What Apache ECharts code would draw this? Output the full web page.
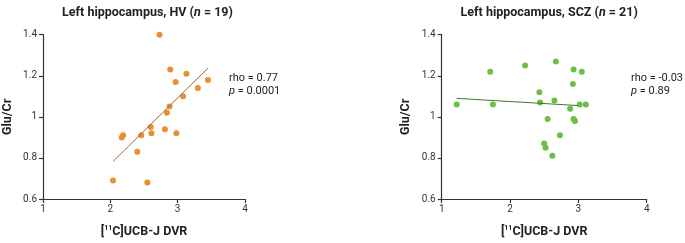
<!DOCTYPE html>
<html><head><meta charset="utf-8">
<script src="https://cdn.jsdelivr.net/npm/echarts@6/dist/echarts.min.js"></script>
<style>html,body{margin:0;padding:0;background:#fff}#c{width:685px;height:243px}</style>
</head><body><div id="c"></div>
<script>
// Data
const hvDVR  = [2.73,2.89,3.13,2.97,3.45,3.30,3.08,2.88,2.84,2.60,2.61,2.81,2.98,2.46,2.19,2.17,2.40,2.04,2.55];
const hvGlu  = [1.40,1.23,1.21,1.17,1.18,1.14,1.10,1.05,1.02,0.95,0.92,0.94,0.92,0.91,0.91,0.90,0.83,0.69,0.68];
const sczDVR = [1.22,1.71,1.75,2.22,2.67,2.93,3.05,2.92,2.43,2.44,2.65,2.88,3.02,3.11,2.55,2.93,2.95,2.73,2.50,2.52,2.62];
const sczGlu = [1.06,1.22,1.06,1.25,1.27,1.23,1.22,1.16,1.12,1.07,1.08,1.04,1.06,1.06,0.99,0.99,0.98,0.91,0.87,0.85,0.81];
const hvFitX = [2.04,3.45];
const hvFitY = [0.783,1.237];
const sczFitX = [1.22,3.00];
const sczFitY = [1.090,1.055];
const xTicks = [1,2,3,4];
const yTicks = [0.6,0.8,1.0,1.2,1.4];
const titles = ['Left hippocampus, HV (', 'Left hippocampus, SCZ ('];
const nValues = [19,21];
const rhoText = ['rho = 0.77','rho = -0.03'];
const pText = ['0.0001','0.89'];

const font = 'Roboto, "Liberation Sans", Arial, sans-serif';
const zip = (a,b)=>a.map((v,i)=>[v,b[i]]);
const chart = echarts.init(document.getElementById('c'));
const grids = [{left:40,width:205,top:34.7,height:168.6},{left:441.7,width:205,top:34.7,height:168.6}];
const axisCommon = {
  axisLine:{lineStyle:{color:'#333',width:1.2}},
  axisTick:{length:4,lineStyle:{color:'#333',width:1.2}},
  splitLine:{show:false},
  axisLabel:{color:'#333',fontSize:10,fontFamily:font}
};
const xAxes = grids.map((g,i)=>Object.assign({
  type:'value',gridIndex:i,min:xTicks[0],max:xTicks[xTicks.length-1],interval:1,
  name:'[{s|11}C]UCB-J DVR',nameLocation:'middle',nameGap:26,
  nameTextStyle:{fontSize:12.5,fontWeight:'bold',color:'#222',fontFamily:font,
    rich:{s:{fontSize:7,fontWeight:'bold',verticalAlign:'top',padding:[0,0,6,0],color:'#222',fontFamily:font}}}
},axisCommon,{axisLabel:Object.assign({},axisCommon.axisLabel,{margin:5})}));
const yAxes = grids.map((g,i)=>Object.assign({
  type:'value',gridIndex:i,min:0.6,max:1.4,interval:0.2,
  name:'Glu/Cr',nameLocation:'middle',nameGap:29,nameRotate:90,
  nameTextStyle:{fontSize:12.5,fontWeight:'bold',color:'#222',fontFamily:font}
},axisCommon,{axisLabel:Object.assign({},axisCommon.axisLabel,{margin:6,formatter:v=>String(+v.toFixed(1))})}));

chart.setOption({
  animation:false,
  title:grids.map((g,i)=>({
    text:'{b|'+titles[i]+'}{i|n}{b| = '+nValues[i]+')}',
    left:g.left+g.width/2,top:1,textAlign:'center',
    textStyle:{rich:{
      b:{fontSize:12.5,fontWeight:'bold',color:'#222',fontFamily:font},
      i:{fontSize:12.5,fontWeight:'bold',fontStyle:'italic',color:'#222',fontFamily:font}}}
  })),
  grid:grids,
  xAxis:xAxes,
  yAxis:yAxes,
  series:[
    {type:'scatter',xAxisIndex:0,yAxisIndex:0,data:zip(hvDVR,hvGlu),symbolSize:6,itemStyle:{color:'#e88f32',opacity:1}},
    {type:'line',xAxisIndex:0,yAxisIndex:0,data:zip(hvFitX,hvFitY),symbol:'none',lineStyle:{color:'#9a6a3c',width:1}},
    {type:'scatter',xAxisIndex:1,yAxisIndex:1,data:zip(sczDVR,sczGlu),symbolSize:6,itemStyle:{color:'#6cbf45',opacity:1}},
    {type:'line',xAxisIndex:1,yAxisIndex:1,data:zip(sczFitX,sczFitY),symbol:'none',lineStyle:{color:'#3f7a2e',width:1}}
  ],
  graphic:[0,1].map(i=>({
    type:'text',left:(i===0?229:631),top:72,
    style:{text:rhoText[i]+'\n{i|p} = '+pText[i],fill:'#222',fontSize:11,fontFamily:font,lineHeight:12.5,
      rich:{i:{fontStyle:'italic',fontSize:11,fill:'#222',fontFamily:font}}}
  }))
});
</script></body></html>
